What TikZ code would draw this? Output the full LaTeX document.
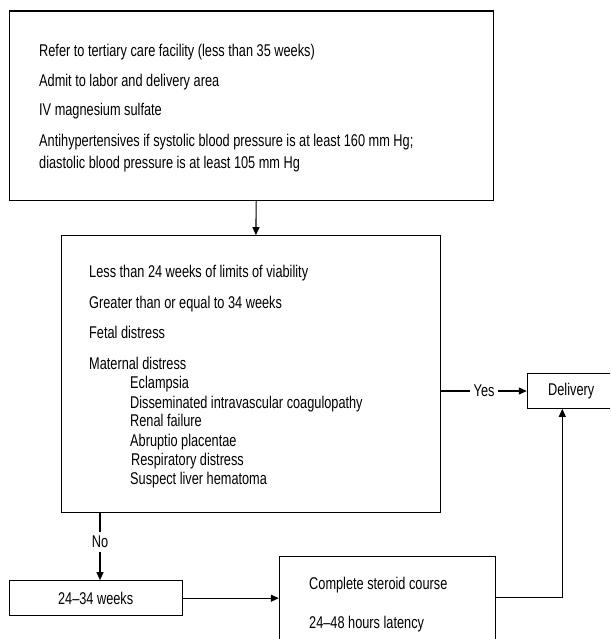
\documentclass[tikz,border=0pt]{standalone}
\usepackage{fontspec}
\setmainfont[FakeStretch=0.75]{Liberation Sans}
\usetikzlibrary{arrows.meta}

\begin{document}
\begin{tikzpicture}[x=1pt,y=1pt,yscale=-1,xscale=1,
  box/.style={draw, line width=1.1pt, inner sep=0pt, font=\fontsize{17}{20}\selectfont},
  txt/.style={anchor=base west, inner sep=0pt, font=\fontsize{17}{20}\selectfont},
  lbl/.style={fill=white, inner sep=4pt, font=\fontsize{17}{20}\selectfont},
  arr/.style={line width=1.1pt, -{Triangle[length=8pt,width=7pt]}}]
\useasboundingbox (0,0) rectangle (610,639);
\clip (0,0) rectangle (610,639);

%Shape: Rectangle (referral)
\node[box, minimum width=483.7pt, minimum height=189.7pt] (refer) at (251.2,105.9) {};
\node[txt] (refer1) at (39,57) {Refer to tertiary care facility (less than 35 weeks)};
\node[txt] (refer2) at (39,87) {Admit to labor and delivery area};
\node[txt] (refer3) at (39,116) {IV magnesium sulfate};
\node[txt] (refer4) at (39,147) {Antihypertensives if systolic blood pressure is at least 160 mm Hg;};
\node[txt] (refer5) at (39,168) {diastolic blood pressure is at least 105 mm Hg};

%Shape: Rectangle (criteria)
\node[box, minimum width=379.7pt, minimum height=276.6pt] (crit) at (250.9,374) {};
\node[txt] (crit1) at (89,277) {Less than 24 weeks of limits of viability};
\node[txt] (crit2) at (89,308) {Greater than or equal to 34 weeks};
\node[txt] (crit3) at (89,338) {Fetal distress};
\node[txt] (crit4) at (89,369) {Maternal distress};
\node[txt] (sub1) at (130,388) {Eclampsia};
\node[txt] (sub2) at (130,408) {Disseminated intravascular coagulopathy};
\node[txt] (sub3) at (130,426) {Renal failure};
\node[txt] (sub4) at (130,446) {Abruptio placentae};
\node[txt] (sub5) at (131,465) {Respiratory distress};
\node[txt] (sub6) at (130,484) {Suspect liver hematoma};

%Shape: Rectangle (delivery)
\node[box, minimum width=87.7pt, minimum height=34.6pt] (deliv) at (571.2,391) {Delivery};

%Shape: Rectangle (24-34 weeks)
\node[box, minimum width=173.3pt, minimum height=35pt] (weeks) at (95.7,598.2) {24--34 weeks};

%Shape: Rectangle (steroids)
\node[box, minimum width=215.7pt, minimum height=103.3pt] (steroid) at (387.2,608.3) {};
\node[txt] (steroid1) at (309,589) {Complete steroid course};
\node[txt] (steroid2) at (309,628) {24--48 hours latency};

%Straight Lines
\draw[arr] ([xshift=5pt]refer.south) -- ([xshift=5pt]crit.north);
%Straight Lines
\draw[arr] (crit.east |- deliv) -- node[lbl] {Yes} (deliv.west);
%Straight Lines
\coordinate (nox) at (100,0);
\draw[arr] (crit.south -| nox) -- node[lbl, pos=0.43] {No} (weeks.north -| nox);
%Straight Lines
\draw[arr] (weeks.east) -- (weeks.east -| steroid.west);
%Straight Lines
\coordinate (turn) at (562.3,597.7);
\draw[arr] (steroid.east |- turn) -- (turn) -- (turn |- deliv.south);

\end{tikzpicture}
\end{document}
